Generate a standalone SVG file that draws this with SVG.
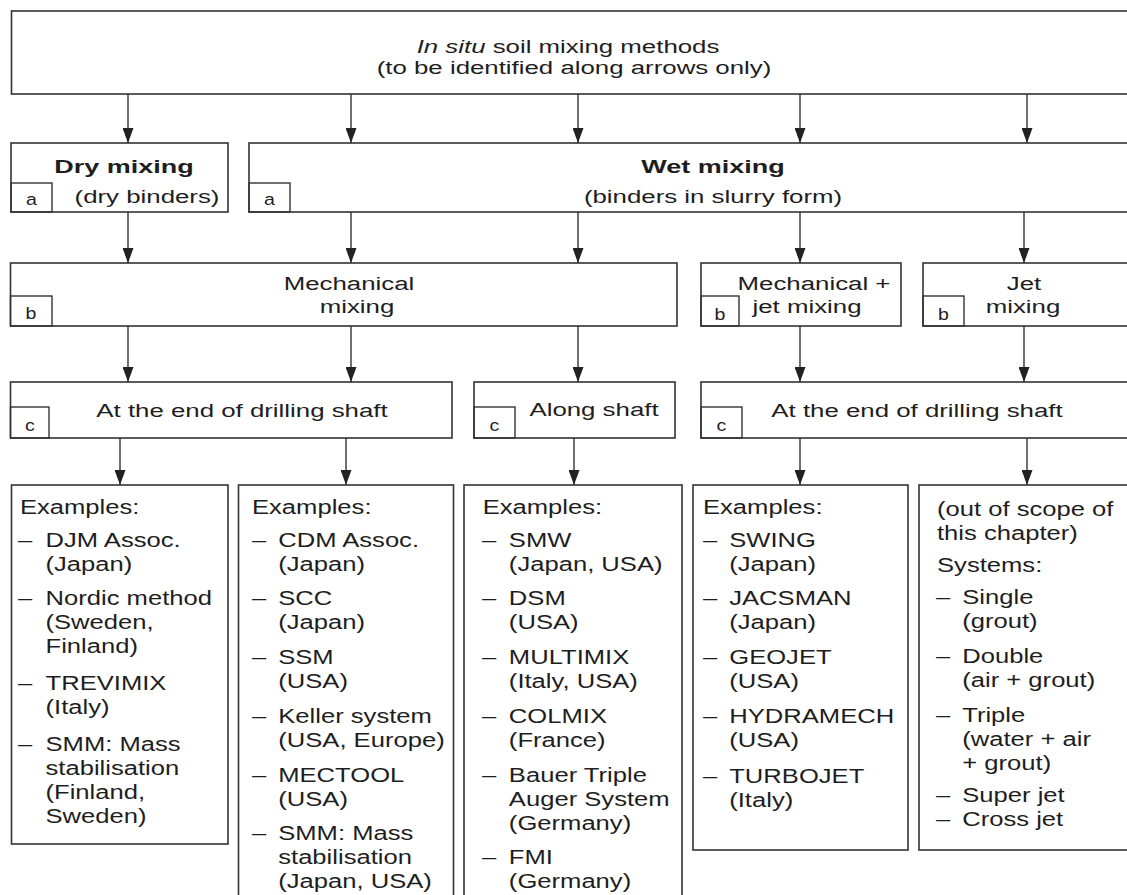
<svg xmlns="http://www.w3.org/2000/svg" width="1127" height="895" viewBox="0 0 1127 895">
<style>
.box{fill:#fff;stroke:#333;stroke-width:1.6}
.lbl{fill:none;stroke:#333;stroke-width:1.4}
.t{font-family:"Liberation Sans",Arial,sans-serif;fill:#1e1e1e;font-size:19px;text-anchor:middle}
.tb{font-weight:bold}
.l{font-family:"Liberation Sans",Arial,sans-serif;fill:#1e1e1e;font-size:17px;text-anchor:middle}
.e{font-family:"Liberation Sans",Arial,sans-serif;fill:#1e1e1e;font-size:20px}
.c{stroke:#333;stroke-width:1.4;fill:none;marker-end:url(#ah)}
</style>
<defs>
<marker id="ah" viewBox="0 0 15 11" refX="15" refY="5.5" markerWidth="15" markerHeight="11" markerUnits="userSpaceOnUse" orient="auto">
<path d="M0,0 L15,5.5 L0,11 z" fill="#222"/>
</marker>
</defs>
<rect width="1127" height="895" fill="#fff"/>

<g id="connectors">
<line class="c" x1="128" y1="94" x2="128" y2="143"/>
<line class="c" x1="351" y1="94" x2="351" y2="143"/>
<line class="c" x1="578" y1="94" x2="578" y2="143"/>
<line class="c" x1="800" y1="94" x2="800" y2="143"/>
<line class="c" x1="1027" y1="94" x2="1027" y2="143"/>
<line class="c" x1="128" y1="212" x2="128" y2="263"/>
<line class="c" x1="351" y1="212" x2="351" y2="263"/>
<line class="c" x1="578" y1="212" x2="578" y2="263"/>
<line class="c" x1="800" y1="212" x2="800" y2="263"/>
<line class="c" x1="1024" y1="212" x2="1024" y2="263"/>
<line class="c" x1="128" y1="326" x2="128" y2="382"/>
<line class="c" x1="351" y1="326" x2="351" y2="382"/>
<line class="c" x1="578" y1="326" x2="578" y2="382"/>
<line class="c" x1="800" y1="326" x2="800" y2="382"/>
<line class="c" x1="1024" y1="326" x2="1024" y2="382"/>
<line class="c" x1="120" y1="438" x2="120" y2="485"/>
<line class="c" x1="346" y1="438" x2="346" y2="485"/>
<line class="c" x1="574" y1="438" x2="574" y2="485"/>
<line class="c" x1="800" y1="438" x2="800" y2="485"/>
<line class="c" x1="1027" y1="438" x2="1027" y2="485"/>
</g>

<g id="top">
<rect class="box" x="11.5" y="11" width="1130" height="83"/>
<text class="t" transform="translate(568,53) scale(1.36,1)"><tspan font-style="italic">In situ</tspan> soil mixing methods</text>
<text class="t" transform="translate(574,74) scale(1.36,1)">(to be identified along arrows only)</text>
</g>

<g id="dry">
<rect class="box" x="11" y="143" width="217" height="69"/>
<rect class="lbl" x="11" y="183" width="41" height="29"/>
<text class="l" transform="translate(31.5,205) scale(1.15,1)">a</text>
<text class="t tb" transform="translate(124,173) scale(1.42,1)">Dry mixing</text>
<text class="t" transform="translate(147,203) scale(1.36,1)">(dry binders)</text>
</g>

<g id="wet">
<rect class="box" x="249" y="143" width="890" height="69"/>
<rect class="lbl" x="249" y="183" width="41" height="29"/>
<text class="l" transform="translate(269.5,205) scale(1.15,1)">a</text>
<text class="t tb" transform="translate(713,173) scale(1.42,1)">Wet mixing</text>
<text class="t" transform="translate(713,203) scale(1.36,1)">(binders in slurry form)</text>
</g>

<g id="mech">
<rect class="box" x="10.5" y="263" width="666.5" height="63"/>
<rect class="lbl" x="10.5" y="296" width="41.5" height="30"/>
<text class="l" transform="translate(31,319) scale(1.15,1)">b</text>
<text class="t" transform="translate(349,290) scale(1.36,1)">Mechanical</text>
<text class="t" transform="translate(357,313) scale(1.36,1)">mixing</text>
</g>

<g id="mechjet">
<rect class="box" x="701" y="263" width="200" height="63"/>
<rect class="lbl" x="701" y="296" width="38" height="30"/>
<text class="l" transform="translate(720,320) scale(1.15,1)">b</text>
<text class="t" transform="translate(814,290) scale(1.36,1)">Mechanical +</text>
<text class="t" transform="translate(807,313) scale(1.36,1)">jet mixing</text>
</g>

<g id="jet">
<rect class="box" x="923" y="263" width="220" height="63"/>
<rect class="lbl" x="923" y="296" width="41" height="30"/>
<text class="l" transform="translate(943.5,320) scale(1.15,1)">b</text>
<text class="t" transform="translate(1024,290) scale(1.36,1)">Jet</text>
<text class="t" transform="translate(1023,313) scale(1.36,1)">mixing</text>
</g>

<g id="endshaft1">
<rect class="box" x="10.5" y="382" width="441.5" height="56"/>
<rect class="lbl" x="10.5" y="407" width="38.5" height="31"/>
<text class="l" transform="translate(30,431) scale(1.15,1)">c</text>
<text class="t" transform="translate(242,417) scale(1.36,1)">At the end of drilling shaft</text>
</g>

<g id="alongshaft">
<rect class="box" x="474" y="382" width="201" height="56"/>
<rect class="lbl" x="474" y="407" width="41" height="31"/>
<text class="l" transform="translate(494.5,431) scale(1.15,1)">c</text>
<text class="t" transform="translate(594,416) scale(1.36,1)">Along shaft</text>
</g>

<g id="endshaft2">
<rect class="box" x="701" y="382" width="440" height="56"/>
<rect class="lbl" x="701" y="407" width="41" height="31"/>
<text class="l" transform="translate(721.5,431) scale(1.15,1)">c</text>
<text class="t" transform="translate(917,417) scale(1.36,1)">At the end of drilling shaft</text>
</g>

<g id="ex1">
<rect class="box" x="11.5" y="485" width="216.5" height="359"/>
<g class="e" transform="translate(18,0) scale(1.28,1)">
<text x="1.5" y="514">Examples:</text>
<text y="547"><tspan x="0">–</tspan><tspan x="21.5">DJM Assoc.</tspan></text>
<text x="21.5" y="571">(Japan)</text>
<text y="605"><tspan x="0">–</tspan><tspan x="21.5">Nordic method</tspan></text>
<text x="21.5" y="629">(Sweden,</text>
<text x="21.5" y="653">Finland)</text>
<text y="690"><tspan x="0">–</tspan><tspan x="21.5">TREVIMIX</tspan></text>
<text x="21.5" y="714">(Italy)</text>
<text y="751"><tspan x="0">–</tspan><tspan x="21.5">SMM: Mass</tspan></text>
<text x="21.5" y="775">stabilisation</text>
<text x="21.5" y="799">(Finland,</text>
<text x="21.5" y="823">Sweden)</text>
</g>
</g>

<g id="ex2">
<rect class="box" x="238.5" y="485" width="215" height="420"/>
<g class="e" transform="translate(252,0) scale(1.28,1)">
<text x="0" y="514">Examples:</text>
<text y="547"><tspan x="0">–</tspan><tspan x="20.5">CDM Assoc.</tspan></text>
<text x="20.5" y="571">(Japan)</text>
<text y="605"><tspan x="0">–</tspan><tspan x="20.5">SCC</tspan></text>
<text x="20.5" y="629">(Japan)</text>
<text y="664"><tspan x="0">–</tspan><tspan x="20.5">SSM</tspan></text>
<text x="20.5" y="688">(USA)</text>
<text y="723"><tspan x="0">–</tspan><tspan x="20.5">Keller system</tspan></text>
<text x="20.5" y="747">(USA, Europe)</text>
<text y="782"><tspan x="0">–</tspan><tspan x="20.5">MECTOOL</tspan></text>
<text x="20.5" y="806">(USA)</text>
<text y="840"><tspan x="0">–</tspan><tspan x="20.5">SMM: Mass</tspan></text>
<text x="20.5" y="864">stabilisation</text>
<text x="20.5" y="888">(Japan, USA)</text>
</g>
</g>

<g id="ex3">
<rect class="box" x="464" y="485" width="218" height="420"/>
<g class="e" transform="translate(482,0) scale(1.28,1)">
<text x="0.5" y="514">Examples:</text>
<text y="547"><tspan x="0">–</tspan><tspan x="21">SMW</tspan></text>
<text x="21" y="571">(Japan, USA)</text>
<text y="605"><tspan x="0">–</tspan><tspan x="21">DSM</tspan></text>
<text x="21" y="629">(USA)</text>
<text y="664"><tspan x="0">–</tspan><tspan x="21">MULTIMIX</tspan></text>
<text x="21" y="688">(Italy, USA)</text>
<text y="723"><tspan x="0">–</tspan><tspan x="21">COLMIX</tspan></text>
<text x="21" y="747">(France)</text>
<text y="782"><tspan x="0">–</tspan><tspan x="21">Bauer Triple</tspan></text>
<text x="21" y="806">Auger System</text>
<text x="21" y="830">(Germany)</text>
<text y="864"><tspan x="0">–</tspan><tspan x="21">FMI</tspan></text>
<text x="21" y="888">(Germany)</text>
</g>
</g>

<g id="ex4">
<rect class="box" x="693" y="485" width="215" height="365"/>
<g class="e" transform="translate(703,0) scale(1.28,1)">
<text x="0" y="514">Examples:</text>
<text y="547"><tspan x="0">–</tspan><tspan x="20.5">SWING</tspan></text>
<text x="20.5" y="571">(Japan)</text>
<text y="605"><tspan x="0">–</tspan><tspan x="20.5">JACSMAN</tspan></text>
<text x="20.5" y="629">(Japan)</text>
<text y="664"><tspan x="0">–</tspan><tspan x="20.5">GEOJET</tspan></text>
<text x="20.5" y="688">(USA)</text>
<text y="723"><tspan x="0">–</tspan><tspan x="20.5">HYDRAMECH</tspan></text>
<text x="20.5" y="747">(USA)</text>
<text y="783"><tspan x="0">–</tspan><tspan x="20.5">TURBOJET</tspan></text>
<text x="20.5" y="807">(Italy)</text>
</g>
</g>

<g id="ex5">
<rect class="box" x="919" y="485" width="220" height="365"/>
<g class="e" transform="translate(936,0) scale(1.28,1)">
<text x="0.8" y="516">(out of scope of</text>
<text x="0.8" y="540">this chapter)</text>
<text x="0.8" y="572">Systems:</text>
<text y="604"><tspan x="0">–</tspan><tspan x="20.5">Single</tspan></text>
<text x="20.5" y="628">(grout)</text>
<text y="663"><tspan x="0">–</tspan><tspan x="20.5">Double</tspan></text>
<text x="20.5" y="687">(air + grout)</text>
<text y="722"><tspan x="0">–</tspan><tspan x="20.5">Triple</tspan></text>
<text x="20.5" y="746">(water + air</text>
<text x="20.5" y="770">+ grout)</text>
<text y="802"><tspan x="0">–</tspan><tspan x="20.5">Super jet</tspan></text>
<text y="826"><tspan x="0">–</tspan><tspan x="20.5">Cross jet</tspan></text>
</g>
</g>
</svg>
